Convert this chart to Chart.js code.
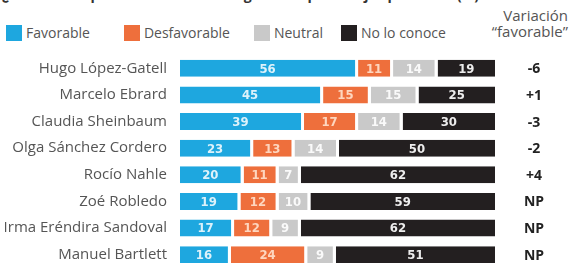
<!DOCTYPE html>
<html>
<head>
<meta charset="utf-8">
<script src="https://cdn.jsdelivr.net/npm/chart.js@4"></script>
<style>
  body { margin: 0; width: 569px; height: 263px; overflow: hidden; background: #fff; position: relative; font-family: "Open Sans", sans-serif; }
  #titulo { position: absolute; left: 2px; top: -15px; font-size: 14px; font-weight: 700; color: #333; white-space: nowrap; }
  #leyenda { position: absolute; left: 6px; top: 23px; display: flex; font-size: 14px; color: #555; }
  #leyenda span { display: flex; align-items: center; }
  #leyenda i { display: inline-block; width: 16px; height: 16px; margin-right: 4px; }
  #variacion { position: absolute; right: 1px; top: 7px; font-size: 15px; line-height: 16px; color: #555; text-align: right; }
  #graficoBarras { position: absolute; left: 0; top: 0; }
</style>
</head>
<body>
<div id="titulo">¿Cuál es su opinión acerca de los siguientes personajes políticos? (%)</div>
<div id="leyenda"></div>
<div id="variacion">Variación<br>“favorable”</div>
<canvas id="graficoBarras" width="569" height="290"></canvas>
<script>
const personajes = ["Hugo López-Gatell", "Marcelo Ebrard", "Claudia Sheinbaum", "Olga Sánchez Cordero", "Rocío Nahle", "Zoé Robledo", "Irma Eréndira Sandoval", "Manuel Bartlett"];
const favorable = [56, 45, 39, 23, 20, 19, 17, 16];
const desfavorable = [11, 15, 17, 13, 11, 12, 12, 24];
const neutral = [14, 15, 14, 14, 7, 10, 9, 9];
const noLoConoce = [19, 25, 30, 50, 62, 59, 62, 51];
const variacion = ["-6", "+1", "-3", "-2", "+4", "NP", "NP", "NP"];

const nombresSeries = ["Favorable", "Desfavorable", "Neutral", "No lo conoce"];
const colores = ["#1ea7df", "#ee6f3c", "#c9c9c9", "#231f20"];
const coloresTexto = ["rgba(255,255,255,0.85)", "rgba(255,225,205,0.9)", "rgba(255,255,255,0.9)", "rgba(255,255,255,0.92)"];
const margenes = [0, 34, 24, 18];

// leyenda en html
const leyenda = document.querySelector("#leyenda");
nombresSeries.forEach((n, i) => {
  const s = document.createElement("span");
  s.style.marginLeft = margenes[i] + "px";
  s.innerHTML = '<i style="background:' + colores[i] + '"></i>' + n;
  leyenda.appendChild(s);
});

const series = [favorable, desfavorable, neutral, noLoConoce];
const datasets = series.map((d, i) => ({
  label: nombresSeries[i],
  data: d,
  backgroundColor: colores[i],
  borderColor: "#fff",
  borderWidth: { right: 3 },
  borderSkipped: false,
  barPercentage: 0.64,
  categoryPercentage: 1
}));

// numeros dentro de las barras y columna de variacion
const etiquetas = {
  id: "etiquetas",
  afterDatasetsDraw(chart) {
    const ctx = chart.ctx;
    ctx.save();
    ctx.textAlign = "center";
    ctx.textBaseline = "middle";
    ctx.font = "bold 13px 'Liberation Sans Narrow', 'DejaVu Sans Condensed', sans-serif";
    chart.data.datasets.forEach((ds, i) => {
      chart.getDatasetMeta(i).data.forEach((bar, j) => {
        ctx.fillStyle = coloresTexto[i];
        ctx.fillText(ds.data[j], (bar.base + bar.x - 3) / 2, bar.y + 1);
      });
    });
    ctx.fillStyle = "#222";
    ctx.font = "bold 14px 'Open Sans', sans-serif";
    chart.getDatasetMeta(0).data.forEach((bar, j) => {
      ctx.fillText(variacion[j], chart.chartArea.right + 36, bar.y + 1);
    });
    ctx.restore();
  }
};

new Chart(document.querySelector("#graficoBarras"), {
  type: "bar",
  data: { labels: personajes, datasets: datasets },
  options: {
    indexAxis: "y",
    responsive: false,
    animation: false,
    layout: { padding: { top: 55, right: 71, bottom: 21, left: 0 } },
    plugins: { legend: { display: false }, tooltip: { enabled: false } },
    scales: {
      x: { stacked: true, min: 0, max: 100, display: false },
      y: {
        stacked: true,
        grid: { display: false, drawTicks: false },
        border: { display: false },
        ticks: { color: "#555", padding: 13, font: { size: 15, family: "'Open Sans', sans-serif" } },
        afterFit(scale) { scale.width = 180; }
      }
    }
  },
  plugins: [etiquetas]
});
</script>
</body>
</html>
